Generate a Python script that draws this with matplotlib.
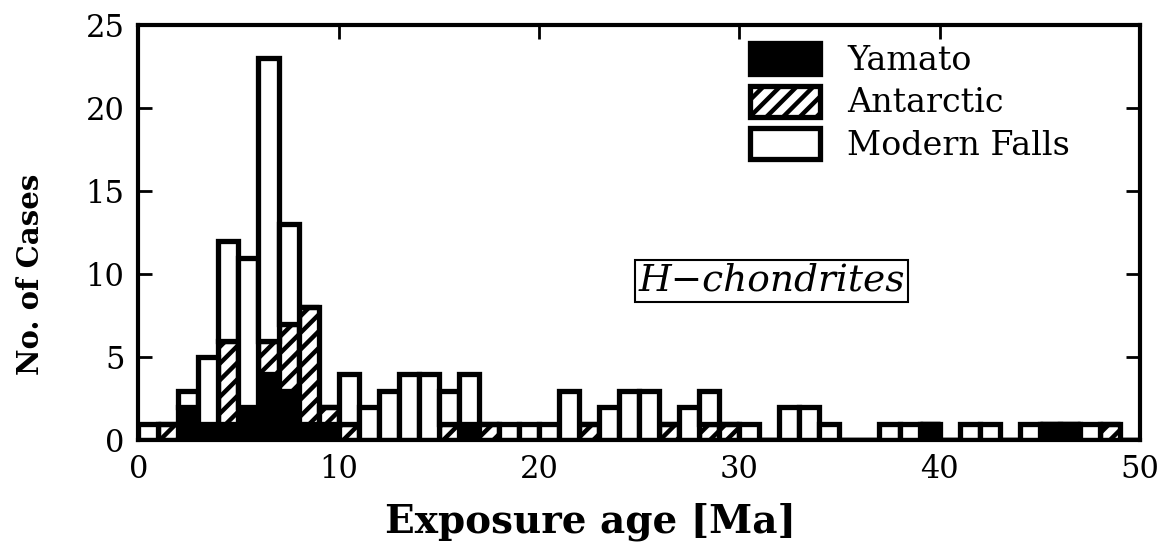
import matplotlib.pyplot as plt
import numpy as np
from matplotlib.patches import Patch

# 1 Ma bins, left edges 0..49
age_bins = np.arange(50)

yamato = [0, 0, 2, 1, 1, 2, 4, 3, 1, 1,
          0, 0, 0, 0, 0, 0, 1, 0, 0, 0,
          0, 0, 0, 0, 0, 0, 0, 0, 0, 0,
          0, 0, 0, 0, 0, 0, 0, 0, 0, 1,
          0, 0, 0, 0, 0, 1, 1, 0, 0, 0]
antarctic = [0, 1, 0, 0, 5, 0, 2, 4, 7, 1,
             1, 0, 0, 0, 0, 1, 0, 1, 0, 0,
             0, 0, 1, 0, 0, 0, 1, 0, 1, 1,
             0, 0, 0, 0, 0, 0, 0, 0, 0, 0,
             0, 0, 0, 0, 0, 0, 0, 0, 1, 0]
modern = [1, 0, 1, 4, 6, 9, 17, 6, 0, 0,
          3, 2, 3, 4, 4, 2, 3, 0, 1, 1,
          1, 3, 0, 2, 3, 3, 0, 2, 2, 0,
          1, 0, 2, 2, 1, 0, 0, 1, 1, 0,
          0, 1, 1, 0, 1, 0, 0, 1, 0, 0]

labels = ["Yamato", "Antarctic", "Modern Falls"]

plt.rcParams["font.family"] = ["DejaVu Serif"]
plt.rcParams["hatch.linewidth"] = 3.2

fig, ax = plt.subplots(figsize=(11.62, 5.54), dpi=100)
fig.subplots_adjust(left=0.119, right=0.981, top=0.955, bottom=0.205)

lw = 3.8
bottom2 = np.array(yamato)
bottom3 = bottom2 + np.array(antarctic)
ax.bar(age_bins, yamato, width=1, align="edge", color="black",
       edgecolor="black", linewidth=lw, zorder=2)
ax.bar(age_bins, antarctic, width=1, align="edge", bottom=bottom2,
       facecolor="white", edgecolor="black", hatch="//", linewidth=lw, zorder=2)
ax.bar(age_bins, modern, width=1, align="edge", bottom=bottom3,
       facecolor="white", edgecolor="black", linewidth=lw, zorder=2)

ax.set_xlim(0, 50)
ax.set_ylim(0, 25)
ax.set_xticks(np.arange(0, 51, 10))
ax.set_yticks(np.arange(0, 26, 5))
ax.tick_params(direction="in", length=10, width=2, top=True, right=True,
               labelsize=22, pad=10)
for s in ax.spines.values():
    s.set_linewidth(3)

ax.set_xlabel("Exposure age [Ma]", fontsize=28, fontweight="bold")
ax.xaxis.set_label_coords(0.451, -0.15)
ax.set_ylabel("No. of Cases", fontsize=21, fontweight="bold")
ax.yaxis.set_label_coords(-0.093, 0.40)

ax.text(31.6, 9.6, "H\u2212chondrites", fontsize=27, style="italic",
        ha="center", va="center",
        bbox=dict(boxstyle="square,pad=0.08", facecolor="white",
                  edgecolor="black", linewidth=1.5))

handles = [Patch(facecolor="black", edgecolor="black", linewidth=lw),
           Patch(facecolor="white", edgecolor="black", hatch="//", linewidth=lw),
           Patch(facecolor="white", edgecolor="black", linewidth=lw)]
ax.legend(handles, labels, loc="upper left", bbox_to_anchor=(0.611, 0.957),
          frameon=False, fontsize=24, handlelength=2.1, handleheight=1.05,
          labelspacing=0.27, handletextpad=0.8, borderpad=0,
          borderaxespad=0)

fig.savefig("out.png", dpi=100)
